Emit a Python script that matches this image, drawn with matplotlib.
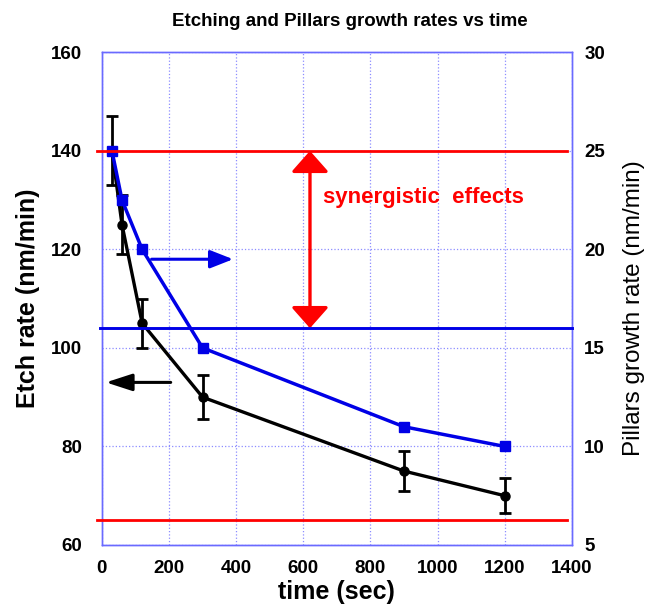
import matplotlib
matplotlib.use("Agg")
import matplotlib.pyplot as plt

plt.rcParams['font.family'] = ['Liberation Sans', 'DejaVu Sans']

# etch rate (left axis)
time_s = [30, 60, 120, 300, 900, 1200]
etch_rate = [140, 125, 105, 90, 75, 70]
etch_err = [7, 6, 5, 4.5, 4, 3.5]

# pillars growth rate (right axis)
pillar_rate = [25, 22.5, 20, 15, 11, 10]

# reference levels
etch_levels = [140, 65]     # red lines, left axis
pillar_level = 16           # blue line, right axis

x_ticks = [0, 200, 400, 600, 800, 1000, 1200, 1400]
left_ticks = [60, 80, 100, 120, 140, 160]
right_ticks = [5, 10, 15, 20, 25, 30]

red = '#FF0000'
blue = '#0000E6'
spine_c = '#6A6AFF'

fig = plt.figure(figsize=(6.49, 6.06), dpi=100)
ax = fig.add_axes([0.157, 0.1007, 0.724, 0.813])
ax2 = ax.twinx()

ax.set_xlim(0, 1400)
ax.set_ylim(60, 160)
ax2.set_ylim(5, 30)
ax.set_xticks(x_ticks)
ax.set_yticks(left_ticks)
ax2.set_yticks(right_ticks)

ax.grid(True, color='#8C8CFF', linestyle=':', linewidth=0.9)
ax.set_axisbelow(True)
for a in (ax, ax2):
    for s in a.spines.values():
        s.set_color(spine_c)
        s.set_linewidth(1.0)
ax.tick_params(axis='both', length=0, labelsize=13.5)
ax.tick_params(axis='y', pad=14)
ax.tick_params(axis='x', pad=11)
ax2.tick_params(axis='y', length=0, labelsize=13.5, pad=9)
for lab in ax.get_xticklabels() + ax.get_yticklabels() + ax2.get_yticklabels():
    lab.set_fontweight('bold')

# horizontal reference lines
for lvl in etch_levels:
    ax2.axhline(5 + (lvl - 60) / 4, xmin=-0.01, xmax=0.99, color=red, lw=2.0, zorder=6, clip_on=False)
ax2.axhline(pillar_level, xmin=-0.005, xmax=1.0, color=blue, lw=2.1, zorder=5, clip_on=False)

# data
ax.errorbar(time_s, etch_rate, yerr=etch_err, color='black', lw=2.4, marker='o',
            markersize=6.5, capsize=4.5, capthick=2, elinewidth=2, zorder=4)
ax2.plot(time_s, pillar_rate, color=blue, lw=2.5, marker='s', markersize=6.5, zorder=4)

# arrows
ax.annotate('', xy=(620, 104), xytext=(620, 140),
            arrowprops=dict(arrowstyle='<|-|>,head_length=13,head_width=11.5',
                            mutation_scale=1, color=red, lw=2.4, shrinkA=0, shrinkB=0))
ax.annotate('', xy=(391, 118), xytext=(148, 118),
            arrowprops=dict(arrowstyle='-|>,head_length=14,head_width=5.5',
                            mutation_scale=1, color=blue, lw=2.2, shrinkA=0, shrinkB=0))
ax.annotate('', xy=(12, 93), xytext=(205, 93),
            arrowprops=dict(arrowstyle='-|>,head_length=16,head_width=5.2',
                            mutation_scale=1, color='black', lw=2.2, shrinkA=0, shrinkB=0))

ax.text(658, 130.5, 'synergistic  effects', color=red, fontsize=16, fontweight='bold',
        ha='left', va='center')

ax.set_xlabel('time (sec)', fontsize=18, fontweight='bold', labelpad=2)
ax.set_ylabel('Etch rate (nm/min)', fontsize=18, fontweight='bold', labelpad=8)
ax2.set_ylabel('Pillars growth rate (nm/min)', fontsize=17.5)
ax2.yaxis.set_label_coords(1.11, 0.48)

fig.text(0.539, 0.965, 'Etching and Pillars growth rates vs time', fontsize=13.5,
         fontweight='bold', ha='center', va='center')

fig.savefig('out.png', dpi=100)
